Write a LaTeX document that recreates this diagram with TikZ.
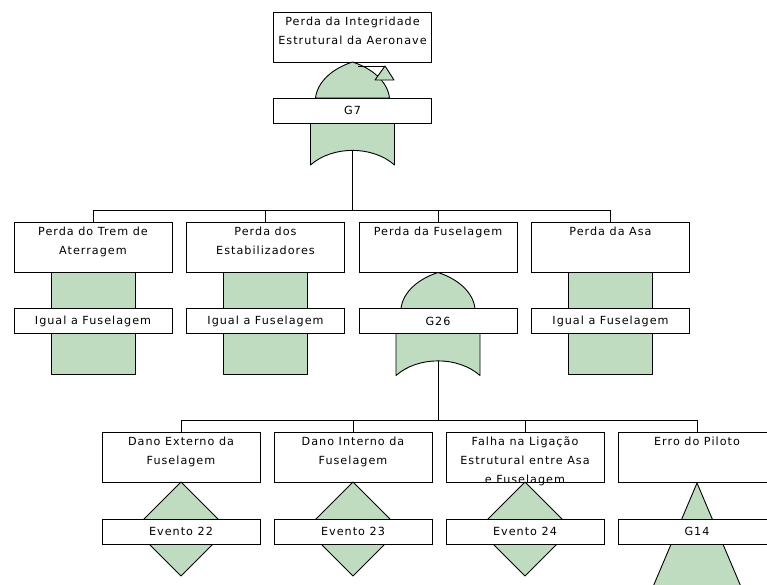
\documentclass[tikz,border=0pt]{standalone}
\usepackage{fontspec}
\setmainfont{DejaVu Sans}[LetterSpace=9]
\definecolor{gatec}{RGB}{192,220,192}
\begin{document}
\begin{tikzpicture}[x=1pt,y=-1pt,line width=0.9pt,
  evbox/.style={draw,fill=white,minimum width=158pt,minimum height=50pt,inner sep=0pt},
  evtext/.style={anchor=north,yshift=-5pt,inner sep=0pt,align=center,
    font=\fontsize{11.2}{19}\selectfont},
  tagbox/.style={draw,fill=white,minimum width=158pt,minimum height=25pt,inner sep=0pt,
    font=\fontsize{11.2}{13}\selectfont},
  gatefill/.style={draw,fill=gatec,line join=round},
  link/.style={draw},
  % OR gate drawn around its tag box centre
  orgate/.pic={
    \path[gatefill] (-37,-12.5) .. controls (-35,-29) and (-20,-42) .. (0,-48.5)
      .. controls (20,-42) and (35,-29) .. (37,-12.5) -- cycle;
    \path[gatefill] (-42,12.5) -- (-42,54.5) .. controls (-20,35) and (20,35) .. (42,54.5)
      -- (42,12.5) -- cycle;
    \coordinate (-out) at (0,39.5);
  },
  % transfer symbol
  transfer/.pic={
    \path[gatefill] (-42,-49) rectangle (42,53);
  },
  % basic event diamond
  basic/.pic={
    \path[gatefill] (0,-49.5) -- (47,-2.5) -- (0,44.5) -- (-47,-2.5) -- cycle;
  },
  % undeveloped transfer triangle
  xfertri/.pic={
    \path[gatefill] (0,-48.5) -- (46,60) -- (-46,60) -- cycle;
  }
]
\useasboundingbox (0,0) rectangle (767,584);
\clip (0,0) rectangle (767,584);

% event boxes
\node[evbox] (top) at (352.5,37) {};
\node[evbox] (l2a) at (93,247) {};
\node[evbox] (l2b) at (265.5,247) {};
\node[evbox] (l2c) at (438,247) {};
\node[evbox] (l2d) at (610.5,247) {};
\node[evbox] (l3a) at (181,457) {};
\node[evbox] (l3b) at (353,457) {};
\node[evbox] (l3c) at (525,457) {};
\node[evbox] (l3d) at (697,457) {};

% gate symbols
\pic (g7gate) at (352.5,110.5) {orgate};
\pic (g26gate) at (438,321) {orgate};
\pic at (93,321) {transfer};
\pic at (265.5,321) {transfer};
\pic at (610.5,321) {transfer};
\pic at (181,531.5) {basic};
\pic at (353,531.5) {basic};
\pic at (525,531.5) {basic};
\pic at (697,531.5) {xfertri};

% transfer-out mark on the top gate
\draw (358,66) -- (385,66);
\path[gatefill] (385,66) -- (394,80) -- (375,80) -- cycle;

% tag boxes
\node[tagbox] (g7) at (352.5,110.5) {G7};
\node[tagbox] (t2a) at (93,321) {Igual a Fuselagem};
\node[tagbox] (t2b) at (265.5,321) {Igual a Fuselagem};
\node[tagbox] (g26) at (438,321) {G26};
\node[tagbox] (t2d) at (610.5,321) {Igual a Fuselagem};
\node[tagbox] (e22) at (181,531.5) {Evento 22};
\node[tagbox] (e23) at (353,531.5) {Evento 23};
\node[tagbox] (e24) at (525,531.5) {Evento 24};
\node[tagbox] (g14) at (697,531.5) {G14};

% event descriptions
\node[evtext] (topt) at (top.north) {Perda da Integridade\\Estrutural da Aeronave};
\node[evtext] (l2at) at (l2a.north) {Perda do Trem de\\Aterragem};
\node[evtext] (l2bt) at (l2b.north) {Perda dos\\Estabilizadores};
\node[evtext] (l2ct) at (l2c.north) {Perda da Fuselagem};
\node[evtext] (l2dt) at (l2d.north) {Perda da Asa};
\node[evtext] (l3at) at (l3a.north) {Dano Externo da\\Fuselagem};
\node[evtext] (l3bt) at (l3b.north) {Dano Interno da\\Fuselagem};
\node[evtext] (l3ct) at (l3c.north) {Falha na Ligação\\Estrutural entre Asa\\e Fuselagem};
\node[evtext] (l3dt) at (l3d.north) {Erro do Piloto};

% connectors
\coordinate (bus1) at (352.5,210);
\draw[link] (g7gate-out) -- (bus1);
\foreach \b in {l2a,l2b,l2c,l2d} \draw[link] (\b.north) |- (bus1);
\coordinate (bus2) at (438,420);
\draw[link] (g26gate-out) -- (bus2);
\foreach \b in {l3a,l3b,l3c,l3d} \draw[link] (\b.north) |- (bus2);
\end{tikzpicture}
\end{document}
